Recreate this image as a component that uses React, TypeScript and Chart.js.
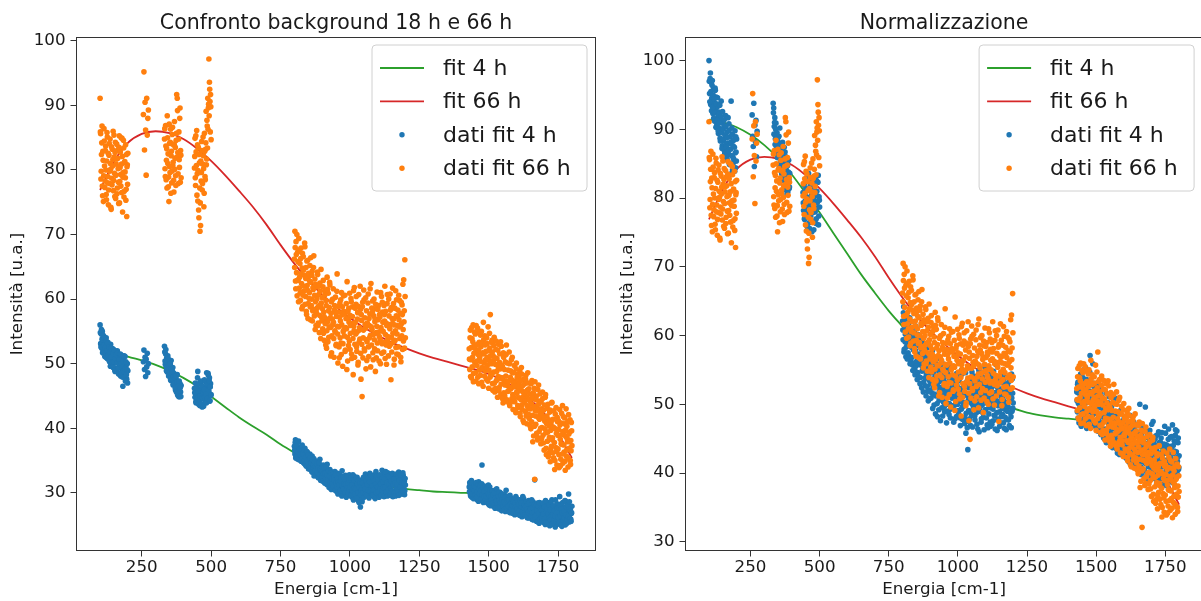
import React, { useEffect, useRef } from "react";
import { Chart, registerables } from "chart.js";

Chart.register(...registerables);

const FONT = "'DejaVu Sans', 'Liberation Sans', sans-serif";
const BLUE = "#1f77b4";
const ORANGE = "#ff7f0e";
const GREEN = "#2ca02c";
const RED = "#d62728";

// ---------- tick labels ----------
const xTicks = [250, 500, 750, 1000, 1250, 1500, 1750];
const yTicksLeft = [30, 40, 50, 60, 70, 80, 90, 100];
const yTicksRight = [30, 40, 50, 60, 70, 80, 90, 100];

// ---------- energy grid (cm-1), per measured window ----------
const energiaA = [100,102,104,106,108,110,112,114,116,118,120,122,124,126,128,130,132,134,136,138,140,142,144,146,148,150,152,154,156,158,160,162,164,166,168,170,172,174,176,178,180,182,184,186,188,190,192,194,196,198,200];
const energiaA2 = [101,103,105,107,109,111,113,115,117,119,121,123,125,127,129,131,133,135,137,139,141,143,145,147,149,151,153,155,157,159,161,163,165,167,169,171,173,175,177,179,181,183,185,187,189,191,193,195,197,199];
const energiaB = [256,258,260,262,264,266,268,270,272,274];
const energiaC = [332,334,336,338,340,342,344,346,348,350,352,354,356,358,360,362,364,366,368,370,372,374,376,378,380,382,384,386,388,390,392];
const energiaC2 = [333,335,337,339,341,343,345,347,349,351,353,355,357,359,361,363,365,367,369,371,373,375,377,379,381,383,385,387,389,391];
const energiaD = [440,442,444,446,448,450,452,454,456,458,460,462,464,466,468,470,472,474,476,478,480,482,484,486,488,490,492,494,496,498,500];
const energiaD2 = [441,443,445,447,449,451,453,455,457,459,461,463,465,467,469,471,473,475,477,479,481,483,485,487,489,491,493,495,497,499];
const energiaE = [
  800,802,804,806,808,810,812,814,816,818,
  820,822,824,826,828,830,832,834,836,838,
  840,842,844,846,848,850,852,854,856,858,
  860,862,864,866,868,870,872,874,876,878,
  880,882,884,886,888,890,892,894,896,898,
  900,902,904,906,908,910,912,914,916,918,
  920,922,924,926,928,930,932,934,936,938,
  940,942,944,946,948,950,952,954,956,958,
  960,962,964,966,968,970,972,974,976,978,
  980,982,984,986,988,990,992,994,996,998,
  1000,1002,1004,1006,1008,1010,1012,1014,1016,1018,
  1020,1022,1024,1026,1028,1030,1032,1034,1036,1038,
  1040,1042,1044,1046,1048,1050,1052,1054,1056,1058,
  1060,1062,1064,1066,1068,1070,1072,1074,1076,1078,
  1080,1082,1084,1086,1088,1090,1092,1094,1096,1098,
  1100,1102,1104,1106,1108,1110,1112,1114,1116,1118,
  1120,1122,1124,1126,1128,1130,1132,1134,1136,1138,
  1140,1142,1144,1146,1148,1150,1152,1154,1156,1158,
  1160,1162,1164,1166,1168,1170,1172,1174,1176,1178,
  1180,1182,1184,1186,1188,1190,1192,1194,1196,1198,
  1200];
const energiaE2 = [
  801,803,805,807,809,811,813,815,817,819,
  821,823,825,827,829,831,833,835,837,839,
  841,843,845,847,849,851,853,855,857,859,
  861,863,865,867,869,871,873,875,877,879,
  881,883,885,887,889,891,893,895,897,899,
  901,903,905,907,909,911,913,915,917,919,
  921,923,925,927,929,931,933,935,937,939,
  941,943,945,947,949,951,953,955,957,959,
  961,963,965,967,969,971,973,975,977,979,
  981,983,985,987,989,991,993,995,997,999,
  1001,1003,1005,1007,1009,1011,1013,1015,1017,1019,
  1021,1023,1025,1027,1029,1031,1033,1035,1037,1039,
  1041,1043,1045,1047,1049,1051,1053,1055,1057,1059,
  1061,1063,1065,1067,1069,1071,1073,1075,1077,1079,
  1081,1083,1085,1087,1089,1091,1093,1095,1097,1099,
  1101,1103,1105,1107,1109,1111,1113,1115,1117,1119,
  1121,1123,1125,1127,1129,1131,1133,1135,1137,1139,
  1141,1143,1145,1147,1149,1151,1153,1155,1157,1159,
  1161,1163,1165,1167,1169,1171,1173,1175,1177,1179,
  1181,1183,1185,1187,1189,1191,1193,1195,1197,1199];
const energiaF = [
  1430,1432,1434,1436,1438,1440,1442,1444,1446,1448,
  1450,1452,1454,1456,1458,1460,1462,1464,1466,1468,
  1470,1472,1474,1476,1478,1480,1482,1484,1486,1488,
  1490,1492,1494,1496,1498,1500,1502,1504,1506,1508,
  1510,1512,1514,1516,1518,1520,1522,1524,1526,1528,
  1530,1532,1534,1536,1538,1540,1542,1544,1546,1548,
  1550,1552,1554,1556,1558,1560,1562,1564,1566,1568,
  1570,1572,1574,1576,1578,1580,1582,1584,1586,1588,
  1590,1592,1594,1596,1598,1600,1602,1604,1606,1608,
  1610,1612,1614,1616,1618,1620,1622,1624,1626,1628,
  1630,1632,1634,1636,1638,1640,1642,1644,1646,1648,
  1650,1652,1654,1656,1658,1660,1662,1664,1666,1668,
  1670,1672,1674,1676,1678,1680,1682,1684,1686,1688,
  1690,1692,1694,1696,1698,1700,1702,1704,1706,1708,
  1710,1712,1714,1716,1718,1720,1722,1724,1726,1728,
  1730,1732,1734,1736,1738,1740,1742,1744,1746,1748,
  1750,1752,1754,1756,1758,1760,1762,1764,1766,1768,
  1770,1772,1774,1776,1778,1780,1782,1784,1786,1788,
  1790,1792,1794,1796,1798,1800];
const energiaF2 = [
  1431,1433,1435,1437,1439,1441,1443,1445,1447,1449,
  1451,1453,1455,1457,1459,1461,1463,1465,1467,1469,
  1471,1473,1475,1477,1479,1481,1483,1485,1487,1489,
  1491,1493,1495,1497,1499,1501,1503,1505,1507,1509,
  1511,1513,1515,1517,1519,1521,1523,1525,1527,1529,
  1531,1533,1535,1537,1539,1541,1543,1545,1547,1549,
  1551,1553,1555,1557,1559,1561,1563,1565,1567,1569,
  1571,1573,1575,1577,1579,1581,1583,1585,1587,1589,
  1591,1593,1595,1597,1599,1601,1603,1605,1607,1609,
  1611,1613,1615,1617,1619,1621,1623,1625,1627,1629,
  1631,1633,1635,1637,1639,1641,1643,1645,1647,1649,
  1651,1653,1655,1657,1659,1661,1663,1665,1667,1669,
  1671,1673,1675,1677,1679,1681,1683,1685,1687,1689,
  1691,1693,1695,1697,1699,1701,1703,1705,1707,1709,
  1711,1713,1715,1717,1719,1721,1723,1725,1727,1729,
  1731,1733,1735,1737,1739,1741,1743,1745,1747,1749,
  1751,1753,1755,1757,1759,1761,1763,1765,1767,1769,
  1771,1773,1775,1777,1779,1781,1783,1785,1787,1789,
  1791,1793,1795,1797,1799];

// ---------- dati fit 66 h (intensity, u.a.) ----------
const dati66hA = [91.1,85.6,79.8,84.2,77.5,82.9,75.1,86.4,80.6,78.3,83.7,76.2,81.4,85.1,79.0,74.6,82.3,77.9,84.8,80.1,73.9,78.7,83.2,81.6,76.8,85.4,79.5,82.7,75.6,80.9,84.0,77.2,81.8,78.1,83.5,74.9,80.4,79.3,85.0,76.5,82.1,78.9,84.6,75.8,81.2,79.7,83.9,77.0,72.8,80.8,82.6];
const dati66hA2 = [85.9,78.6,82.4,86.8,76.0,81.5,79.1,84.5,77.3,83.0,80.0,75.4,85.8,78.0,82.6,76.9,84.1,79.8,81.0,74.2,83.6,77.7,80.6,86.0,78.4,82.0,75.9,84.3,79.2,81.7,76.3,83.1,80.2,74.8,85.3,78.2,82.8,77.5,80.9,84.9,73.5,79.6,83.4,76.7,81.3,78.8,75.3,82.4,80.5,77.8];
const dati66hB = [88.6,95.2,83.1,90.5,86.2,79.2,91.1,85.4,88.0,89.3];
const dati66hC = [84.8,80.2,86.9,78.5,83.3,88.4,81.0,77.4,75.1,84.1,79.6,86.3,82.2,78.0,85.5,80.7,83.9,76.6,87.5,81.8,79.1,84.6,91.7,91.1,82.7,77.9,85.9,80.4,89.6,83.0,78.8];
const dati66hC2 = [86.4,79.0,83.7,81.5,77.2,85.0,82.5,78.9,87.1,80.5,84.3,76.4,82.9,79.8,86.6,81.2,78.4,84.0,80.1,83.5,77.6,85.7,82.0,89.2,79.4,84.8,81.6,88.0,78.1,82.3];
const dati66hD = [80.3,84.9,77.6,82.8,86.1,79.4,75.2,83.5,72.6,81.1,70.5,71.4,78.3,84.4,76.9,80.9,82.2,74.3,85.7,79.0,83.2,89.1,81.7,86.8,91.1,89.6,97.2,93.6,90.6,91.7,84.7];
const dati66hD2 = [82.1,78.8,85.3,80.7,76.1,83.9,79.9,73.8,82.4,77.2,74.9,81.4,79.6,83.0,77.9,85.1,80.2,76.4,82.9,78.5,84.2,80.8,87.7,83.4,86.3,90.2,88.4,92.5,85.9,89.8];
const dati66hE = [
  66.2,70.5,62.8,68.9,64.1,60.5,67.3,63.0,69.4,61.7,
  65.5,59.8,67.9,62.4,64.8,58.9,66.6,61.2,63.7,68.1,
  60.4,64.9,57.6,62.1,66.0,59.3,63.5,61.0,65.2,56.8,
  62.6,60.0,64.3,58.2,61.5,66.7,57.4,63.1,59.6,55.9,
  61.9,58.6,63.8,56.3,60.7,54.8,62.5,59.1,64.6,57.2,
  60.2,55.4,62.9,58.0,53.6,61.3,57.0,59.8,52.4,63.4,
  56.5,60.9,54.1,58.7,62.2,55.6,57.8,51.7,59.9,56.0,
  61.6,53.9,58.3,55.1,60.3,52.8,57.3,63.9,54.6,58.9,
  55.7,50.9,59.4,56.6,53.2,61.0,57.6,49.6,55.0,58.1,
  54.3,60.6,52.1,57.0,55.4,62.7,50.4,56.9,58.6,53.5,
  57.5,54.7,60.1,51.5,56.2,58.8,48.3,55.8,61.8,53.0,
  56.4,59.2,52.6,54.9,57.9,50.2,60.7,55.2,53.8,58.4,
  47.6,56.7,44.9,59.5,54.0,61.4,52.3,57.1,55.5,49.2,
  58.2,53.4,56.0,60.8,51.1,55.9,57.7,54.4,62.4,52.9,
  55.3,59.7,50.6,57.4,53.7,56.5,48.8,58.5,54.8,61.1,
  52.0,56.8,59.0,54.2,57.2,50.0,55.6,60.4,53.1,58.0,
  55.0,51.8,57.6,62.0,54.5,56.3,49.9,59.3,53.6,56.1,
  60.0,52.7,55.4,58.3,47.5,54.1,57.0,61.7,53.3,56.9,
  50.7,58.6,55.1,52.5,59.9,54.6,57.3,51.4,60.6,55.7,
  53.9,57.8,50.3,56.2,59.1,52.2,55.3,63.0,58.2,66.1,
  54.0];
const dati66hE2 = [
  64.9,68.0,61.6,66.9,70.0,62.9,65.8,59.6,67.6,63.4,
  61.0,66.3,63.9,58.5,67.1,60.6,64.5,62.0,68.7,59.2,
  63.2,58.1,65.9,61.4,57.0,64.0,60.1,62.8,58.8,66.4,
  59.0,63.7,56.6,61.8,64.9,58.4,60.6,55.3,62.3,57.9,
  60.0,64.2,55.9,58.9,62.0,57.5,61.2,53.9,59.4,56.6,
  58.5,61.9,54.7,57.3,60.6,56.2,52.9,59.0,55.1,61.5,
  53.4,58.2,55.7,62.6,57.1,51.2,59.6,54.3,56.9,60.0,
  56.4,51.0,59.0,54.9,57.9,53.0,61.2,55.8,50.1,58.0,
  52.6,57.2,54.0,59.9,51.4,56.0,58.8,53.1,60.5,55.3,
  57.7,51.9,55.6,59.3,49.1,54.1,58.1,52.8,56.4,60.9,
  52.2,55.9,59.6,50.8,57.3,53.9,61.3,55.1,51.0,58.6,
  54.6,60.4,51.9,56.9,49.8,58.9,53.3,55.6,62.0,51.6,
  57.6,53.0,58.8,50.9,55.2,59.9,52.0,56.1,60.2,53.7,
  50.5,56.3,59.4,52.6,57.0,54.0,61.6,49.5,55.7,58.6,
  57.9,51.7,54.5,60.0,52.3,56.9,59.2,50.9,55.8,53.2,
  58.4,54.9,50.4,57.6,53.8,61.0,55.2,51.6,59.5,56.4,
  53.3,59.0,56.6,50.8,58.1,52.9,55.9,60.7,54.2,51.2,
  57.4,55.6,60.8,53.0,58.7,51.8,56.2,54.7,59.3,49.8,
  56.0,53.6,61.3,57.4,51.5,55.9,58.3,52.6,56.8,59.8,
  55.8,51.0,59.5,54.3,57.6,62.3,53.5,56.5,52.4,60.4];
const dati66hF = [
  52.3,49.1,55.2,50.6,47.8,53.9,51.0,56.0,48.5,52.8,
  50.2,54.6,47.3,52.0,49.7,55.5,51.4,46.9,53.3,50.9,
  48.2,52.6,55.0,49.4,51.7,46.5,53.7,50.1,54.3,48.9,
  51.9,47.6,53.1,49.8,55.7,46.2,50.5,52.4,57.6,48.4,
  50.0,53.6,46.9,51.2,48.7,54.1,45.6,49.9,52.2,47.4,
  50.8,44.8,48.0,53.0,46.3,51.5,49.2,45.2,52.7,47.7,
  49.5,43.9,51.0,47.1,45.0,50.3,48.1,52.9,44.4,46.6,
  49.0,45.8,51.8,43.5,47.9,46.1,50.6,44.6,48.6,42.9,
  46.4,49.7,44.1,47.3,42.4,50.1,45.4,48.3,43.2,46.8,
  44.7,48.9,41.8,46.0,49.4,43.6,45.7,41.2,47.6,44.0,
  46.9,42.6,48.2,44.9,40.7,45.9,43.1,47.0,41.5,44.3,
  45.3,39.9,43.8,47.4,42.0,44.6,38.8,46.2,32.1,42.7,
  40.6,45.0,43.4,38.2,41.7,46.7,39.5,44.2,42.3,37.6,
  43.0,40.1,45.6,38.9,42.8,36.6,41.1,44.8,39.3,35.9,
  41.9,38.0,43.7,36.1,40.4,42.5,34.8,39.7,37.2,44.0,
  38.5,41.4,35.4,40.0,33.6,42.2,37.0,39.2,34.3,41.0,
  36.8,39.8,33.9,42.9,38.3,35.2,40.8,37.5,43.5,34.6,
  39.0,36.3,41.6,33.5,38.7,35.7,40.3,37.9,34.0,42.1,
  36.9,39.4,35.0,38.1,40.9,37.3];
const dati66hF2 = [
  50.7,54.0,48.0,52.5,55.6,49.5,53.4,47.2,51.6,54.9,
  52.4,48.6,55.9,50.4,53.0,47.9,52.1,54.8,49.0,51.3,
  54.4,50.3,47.1,53.1,49.2,56.4,51.5,48.1,52.9,50.6,
  49.4,54.0,51.0,47.3,52.0,49.0,54.7,47.9,51.2,53.3,
  48.3,51.8,45.9,50.4,52.8,47.0,50.9,46.2,53.5,48.8,
  47.5,52.1,49.4,45.8,50.2,47.9,53.4,46.8,49.8,44.6,
  47.8,51.7,45.5,49.1,46.7,44.2,51.4,47.3,50.1,45.7,
  47.2,43.9,50.0,46.3,48.9,44.1,47.5,51.0,45.2,47.0,
  48.6,44.7,46.5,42.8,49.2,45.6,47.9,43.5,45.9,48.0,
  46.4,42.3,47.4,44.4,48.4,42.9,46.6,44.9,40.9,45.4,
  44.2,47.6,41.9,45.7,43.5,48.6,42.2,46.1,44.5,40.4,
  43.0,46.9,41.0,44.8,37.9,45.5,43.3,40.3,47.2,41.9,
  44.4,39.2,42.7,46.0,38.5,43.8,41.4,45.3,40.0,44.1,
  38.4,42.0,44.6,37.7,41.6,43.6,39.9,45.2,36.9,40.7,
  43.1,39.4,35.6,41.3,38.6,42.8,36.7,40.9,43.9,38.2,
  36.2,40.2,42.7,37.8,35.0,39.9,43.2,36.4,41.7,38.9,
  41.2,35.9,38.9,40.5,34.2,37.6,42.3,36.0,39.5,41.8,
  37.4,40.7,34.9,39.7,43.0,36.6,38.4,41.0,35.4,39.1,
  38.0,41.3,34.4,36.5,39.6];

// ---------- dati fit 4 h, raw (left panel) ----------
const dati4hA = [56.0,53.1,54.6,52.4,55.0,53.7,51.9,54.2,52.8,53.5,51.4,54.0,52.2,50.8,53.3,51.6,52.7,50.3,51.9,53.0,49.9,51.2,50.6,52.3,49.4,51.5,50.1,48.8,51.8,50.4,49.2,52.0,50.7,48.5,51.0,49.7,50.9,48.1,50.2,51.3,49.0,46.5,50.5,48.7,49.6,51.1,48.2,49.8,47.6,50.0,48.9];
const dati4hA2 = [54.8,52.6,55.3,53.8,51.7,54.4,52.9,53.9,51.1,52.5,53.6,50.9,52.0,53.2,51.3,50.6,52.6,51.8,49.6,51.0,52.4,50.2,49.5,51.6,50.3,52.1,49.0,50.8,51.4,48.9,50.1,51.7,49.3,48.4,50.6,49.9,51.5,48.6,50.0,49.4,47.9,50.4,48.8,51.2,49.2,47.3,50.3,48.3,49.1,47.0];
const dati4hB = [50.3,52.1,49.1,51.0,48.0,50.7,49.5,51.6,48.6,50.0];
const dati4hC = [52.7,50.4,51.5,49.6,50.9,48.7,51.2,49.3,50.1,48.2,49.8,47.5,50.5,48.9,47.9,49.4,46.8,48.5,47.2,48.0,45.9,47.6,46.4,48.3,45.1,47.0,46.1,44.9,46.9,45.6,46.6];
const dati4hC2 = [51.8,49.9,52.2,48.9,50.6,49.5,50.8,48.1,49.7,48.6,50.0,47.4,49.1,47.7,48.8,46.7,48.0,46.9,47.8,46.2,48.1,45.6,47.1,45.3,46.5,44.9,47.3,45.8,46.3,44.9];
const dati4hD = [46.2,44.8,45.9,43.9,46.7,45.1,48.8,44.3,46.0,45.4,43.5,47.1,44.9,45.7,43.3,46.4,44.6,45.3,47.5,44.0,46.1,45.0,48.6,44.5,46.6,48.2,45.6,47.8,44.2,46.9,45.2];
const dati4hD2 = [45.5,47.0,44.1,46.3,44.6,47.8,45.8,43.7,46.9,44.4,45.0,47.3,43.8,46.5,44.7,45.6,43.4,46.0,44.8,47.2,45.3,43.9,46.8,44.6,48.5,45.9,47.4,44.3,46.4,45.1];
const dati4hE = [
  37.2,36.0,38.2,35.6,37.6,36.5,35.2,37.9,36.8,35.9,
  37.0,35.4,36.4,34.9,37.4,35.8,36.2,34.6,35.5,36.9,
  34.8,35.9,34.3,36.3,35.1,33.9,35.6,34.5,36.0,33.6,
  35.0,34.2,35.7,33.4,34.7,35.3,33.1,34.4,32.8,34.9,
  33.7,34.6,32.5,33.9,34.1,32.9,35.2,33.3,32.2,34.0,
  33.0,32.4,34.3,31.9,33.5,32.7,33.8,31.6,32.9,34.4,
  32.3,33.1,31.4,32.8,33.6,31.9,32.5,30.9,33.2,32.0,
  31.7,32.9,30.6,33.3,31.2,32.4,30.2,31.8,33.0,31.1,
  32.6,30.8,31.5,32.1,29.9,31.3,33.4,30.5,31.9,32.2,
  30.7,31.6,32.7,30.1,31.0,29.6,32.3,31.4,30.3,32.8,
  31.2,30.0,32.0,29.4,31.7,30.6,29.1,31.5,32.5,30.2,
  31.1,29.7,30.9,32.4,30.4,28.8,31.8,30.0,29.3,27.8,
  31.3,30.5,28.6,32.1,30.8,29.8,31.6,30.3,32.9,29.5,
  30.7,31.9,29.9,32.6,30.1,31.2,33.0,29.6,31.4,30.9,
  32.3,30.2,31.7,29.4,32.8,31.0,30.4,33.3,31.5,29.7,
  31.8,30.6,32.5,31.1,29.5,32.2,30.8,31.6,33.5,30.0,
  31.4,32.7,30.3,31.9,29.8,32.4,31.2,30.7,33.1,31.0,
  32.0,30.5,31.7,29.6,32.9,31.3,30.2,32.3,31.5,29.9,
  31.6,32.6,30.4,31.9,30.9,32.2,29.7,31.1,33.2,30.6,
  32.4,31.0,30.1,32.0,31.4,29.8,32.7,30.8,31.8,30.3,
  31.2];
const dati4hE2 = [
  36.6,37.8,35.4,36.9,37.3,35.7,36.4,38.0,35.1,36.7,
  35.9,36.8,34.9,37.2,35.3,36.1,34.7,36.6,35.0,34.4,
  35.5,34.1,36.4,34.9,35.8,33.7,35.2,34.0,35.4,33.8,
  34.6,33.2,35.1,33.9,34.3,32.6,34.8,33.5,34.1,32.7,
  34.4,33.1,33.8,32.3,34.7,32.8,33.6,31.9,33.4,32.6,
  33.3,31.8,32.9,33.9,31.5,33.0,32.2,34.0,31.3,32.7,
  32.0,33.4,30.8,32.6,31.6,33.1,30.5,32.1,31.3,32.9,
  31.0,32.5,31.9,30.4,32.8,31.5,30.9,32.3,29.8,31.6,
  31.2,32.9,30.3,31.8,32.4,29.5,31.1,32.5,30.6,31.4,
  32.1,30.0,31.3,29.3,32.6,30.8,31.5,29.9,32.0,30.5,
  30.9,32.3,29.6,31.2,30.3,32.8,28.9,30.7,31.9,29.8,
  30.6,32.2,29.2,31.4,30.0,31.9,28.5,30.8,31.6,29.7,
  30.4,28.9,31.5,30.0,32.4,29.3,31.1,30.6,29.9,31.8,
  29.6,31.3,32.3,30.4,29.2,31.7,30.2,32.7,30.8,29.9,
  31.1,29.7,32.1,30.5,31.9,29.1,31.3,30.0,32.6,30.9,
  30.2,31.9,29.3,32.8,30.6,31.4,29.6,32.2,30.4,31.7,
  30.8,29.4,32.1,30.9,33.3,30.1,31.6,29.5,32.5,30.5,
  31.3,32.4,29.7,30.8,31.8,30.3,33.0,29.4,31.2,32.1,
  30.0,31.5,29.5,32.9,30.7,31.3,30.1,32.5,29.6,31.9,
  30.9,32.8,29.9,31.6,30.4,33.1,30.2,31.5,29.7,32.2];
const dati4hF = [
  30.9,31.6,29.8,30.4,31.9,29.3,30.7,31.2,29.6,30.1,
  31.4,29.1,30.6,29.9,31.0,28.9,30.3,31.7,29.4,30.8,
  29.7,30.5,28.8,34.3,30.0,31.1,29.2,30.4,28.6,29.9,
  30.6,29.0,29.8,28.4,30.2,29.5,28.1,30.9,29.3,28.7,
  29.6,28.3,30.1,28.9,27.9,29.4,30.4,28.5,29.1,27.7,
  28.8,29.9,28.0,29.3,27.5,28.6,30.0,28.2,29.0,27.3,
  29.2,28.4,27.8,29.7,28.1,27.1,28.9,29.5,27.6,28.3,
  28.7,27.4,29.3,28.0,26.9,28.5,29.0,27.2,28.8,27.9,
  27.5,28.6,26.6,28.2,29.4,27.0,28.0,26.8,28.9,27.6,
  28.3,26.5,27.8,28.7,27.1,26.3,28.1,27.4,29.1,26.9,
  27.7,28.5,26.7,27.3,28.0,26.1,27.9,28.8,26.4,27.5,
  26.8,28.2,27.0,25.9,27.6,28.6,26.2,27.2,32.0,26.6,
  27.8,25.6,26.9,28.4,26.0,27.3,25.3,28.0,26.5,27.1,
  25.8,27.6,26.3,28.2,25.4,26.8,27.9,25.1,26.6,27.4,
  26.1,28.5,25.5,27.0,26.4,24.9,27.7,25.9,26.7,28.9,
  25.2,26.9,27.5,25.7,26.2,24.7,27.2,26.0,28.3,25.4,
  27.0,25.8,26.5,29.4,25.1,27.6,26.3,24.8,27.3,26.1,
  25.6,27.8,26.4,25.0,28.7,26.7,25.3,27.1,26.0,29.8,
  26.3,25.5,27.4,25.9,26.8,27.9];
const dati4hF2 = [
  30.2,31.3,29.5,30.8,29.9,31.5,30.5,29.1,31.0,30.3,
  29.6,30.9,31.6,29.3,30.1,31.2,28.7,30.6,29.8,31.1,
  30.3,29.0,31.4,29.7,30.8,28.5,30.2,29.4,31.0,28.9,
  29.5,30.7,28.6,29.9,31.2,28.3,29.6,30.4,28.0,29.4,
  28.9,30.3,28.4,29.7,28.1,30.0,27.6,29.2,28.7,30.6,
  28.3,27.7,29.5,28.8,30.1,27.9,28.5,29.6,27.2,28.9,
  29.8,27.9,28.6,27.4,29.3,28.2,30.4,27.7,28.8,29.1,
  27.9,28.9,27.0,29.6,28.3,27.6,29.1,28.0,26.8,28.6,
  28.9,27.3,28.4,27.8,26.7,29.1,27.5,28.5,27.0,28.2,
  27.2,28.9,26.6,27.9,28.4,27.0,29.4,26.8,27.7,28.1,
  26.6,27.8,28.6,26.3,27.4,28.3,27.0,26.1,28.5,27.2,
  27.5,26.4,28.9,26.9,27.7,25.8,28.1,27.0,26.3,27.9,
  26.5,28.1,27.2,25.5,27.9,26.8,28.5,25.9,27.4,26.2,
  27.3,26.1,28.4,26.7,25.7,27.8,26.0,28.8,25.5,27.1,
  27.5,25.3,26.8,28.1,26.0,27.4,25.8,28.6,26.5,25.1,
  26.6,28.0,25.6,27.3,26.4,28.9,25.5,26.9,27.6,25.2,
  26.2,27.7,25.4,28.2,26.5,25.0,27.5,26.9,28.5,25.7,
  27.1,26.1,28.8,25.2,26.6,27.8,25.9,28.1,26.3,27.4,
  28.6,26.0,27.2,25.6,26.9];

// ---------- dati fit 4 h, normalized (right panel) ----------
const dati4hNormA = [100.0,95.2,97.4,93.6,96.8,94.5,97.1,92.3,95.8,93.9,91.2,96.0,92.8,94.7,90.6,93.3,91.8,89.4,92.5,90.1,88.7,91.5,94.1,89.9,87.6,91.0,88.3,90.5,86.9,89.2,92.0,87.8,85.9,89.6,88.0,86.4,90.8,84.9,88.9,87.1,94.1,83.6,89.3,86.0,88.4,85.2,87.4,89.8,84.4,86.7,88.6];
const dati4hNormA2 = [97.0,94.0,98.2,95.5,92.7,96.4,93.2,95.0,91.6,94.4,92.4,95.7,90.3,93.7,91.3,94.6,89.8,92.2,90.9,93.5,88.3,91.9,89.5,87.2,92.6,90.0,88.6,91.4,86.5,89.1,90.4,87.4,88.8,85.5,91.7,86.9,89.9,87.9,85.0,88.1,86.2,90.2,84.1,87.6,85.7,88.5,83.9,86.6,88.9,85.4];
const dati4hNormB = [92.1,89.0,87.5,93.8,84.6,90.6,88.2,91.3,86.0,89.7];
const dati4hNormC = [93.8,93.1,90.4,91.7,88.6,90.9,87.3,89.5,86.2,88.8,84.9,87.7,90.2,85.6,87.0,83.8,86.4,88.1,82.9,85.3,87.4,84.1,81.9,86.0,83.2,80.6,84.7,82.4,85.5,81.4,83.6];
const dati4hNormC2 = [92.4,89.3,91.0,87.8,90.0,86.8,89.1,85.9,88.2,86.5,89.0,84.3,86.9,85.0,87.9,83.5,86.1,84.6,82.6,85.8,83.0,86.7,81.2,84.5,82.1,85.1,80.9,83.8,82.7,81.6];
const dati4hNormD = [80.8,78.2,82.0,76.9,79.6,81.3,77.7,80.1,75.8,78.9,83.6,76.4,79.2,81.7,77.3,80.4,75.1,78.5,82.6,79.9,76.6,80.9,78.0,83.1,77.0,81.0,79.4,82.3,76.1,80.2,78.7];
const dati4hNormD2 = [79.3,81.9,77.0,80.5,78.3,82.8,76.0,79.8,81.4,77.5,80.0,75.6,78.7,82.1,76.8,79.1,81.6,77.9,80.6,75.4,78.0,81.8,79.5,76.3,82.5,78.6,80.3,83.3,77.4,79.7];
const dati4hNormE = [
  62.1,59.4,64.2,58.0,61.3,60.2,56.9,63.0,58.8,60.7,
  57.5,61.8,59.0,62.6,56.4,60.0,58.3,61.1,55.7,59.8,
  57.9,60.5,55.1,58.7,61.4,56.2,59.3,54.6,57.2,60.1,
  55.8,58.4,53.9,57.0,59.6,54.8,56.5,58.9,53.2,55.9,
  57.6,52.7,56.1,54.3,58.2,51.9,55.4,57.3,53.5,50.8,
  56.3,53.0,55.0,51.6,57.8,52.4,54.6,49.9,56.0,53.7,
  51.2,55.3,52.8,48.2,54.1,56.7,50.6,53.3,55.6,51.8,
  54.4,49.5,52.5,55.9,50.3,53.9,48.9,52.0,54.8,51.3,
  53.1,50.0,55.2,51.7,48.5,53.6,52.2,49.3,54.0,50.9,
  52.6,55.5,49.8,51.5,53.8,47.9,52.9,50.4,54.5,51.0,
  53.4,49.1,51.9,54.2,48.0,52.3,50.7,55.0,49.6,52.1,
  50.2,53.0,47.2,51.4,54.6,48.7,52.7,46.6,43.4,50.5,
  52.4,49.0,51.1,46.9,53.5,50.1,48.4,52.8,49.7,54.1,
  51.6,47.7,50.8,53.1,48.8,52.0,46.4,51.2,54.9,49.4,
  52.5,50.3,47.4,53.7,49.9,51.8,48.1,52.9,50.6,55.4,
  49.2,51.5,53.3,47.0,50.9,52.6,48.6,54.3,50.0,46.8,
  52.2,49.5,51.0,53.9,47.6,50.4,52.8,48.3,51.7,55.8,
  50.1,46.2,52.4,49.8,53.2,48.9,51.3,47.3,54.0,50.7,
  52.1,48.5,50.6,53.6,46.5,51.9,49.2,52.7,47.8,50.3,
  53.0,49.6,51.4,46.9,52.3,50.8,48.2,54.4,49.0,51.6,
  50.2];
const dati4hNormE2 = [
  60.8,63.3,57.6,61.9,59.1,62.4,58.3,60.4,56.6,61.5,
  59.5,57.0,60.9,55.9,58.9,61.0,56.8,59.7,54.9,58.0,
  56.0,59.6,54.3,57.8,55.6,60.2,53.6,56.9,58.6,54.0,
  57.3,53.0,56.2,58.1,52.4,55.5,57.7,51.8,54.9,56.8,
  53.8,56.6,51.2,55.0,52.6,57.0,50.5,54.2,55.8,52.0,
  54.7,50.9,53.4,56.4,49.4,52.9,55.2,51.5,54.0,48.6,
  53.0,55.9,50.1,52.6,54.9,49.2,51.9,53.8,47.6,52.4,
  50.8,54.2,48.3,51.7,53.4,49.6,55.1,50.5,52.6,47.3,
  51.5,54.5,49.0,52.3,50.1,55.4,48.0,51.3,53.3,49.5,
  51.0,54.0,47.4,52.0,49.9,53.1,50.6,48.2,52.7,50.0,
  51.7,48.6,53.6,50.4,46.9,52.0,49.3,54.4,47.8,51.2,
  49.8,52.9,48.1,51.6,45.8,50.3,53.3,47.5,51.1,49.1,
  53.0,47.9,50.7,52.5,48.5,54.7,46.7,51.5,49.5,52.2,
  48.3,51.8,50.1,53.8,47.1,50.9,52.9,49.0,46.0,51.4,
  49.7,53.3,47.9,51.1,54.0,48.7,50.5,46.3,52.4,49.2,
  51.3,48.0,53.4,50.1,46.6,52.0,49.5,51.8,47.4,53.9,
  50.6,47.1,52.6,49.3,54.8,48.4,51.2,46.4,50.8,53.0,
  48.8,51.7,47.8,53.5,50.4,46.8,52.2,49.9,48.2,54.5,
  49.4,51.1,47.3,52.9,50.0,48.1,53.9,46.3,51.6,49.0,
  51.8,47.7,50.4,53.4,48.8,52.1,46.6,50.9,53.7,49.4];
const dati4hNormF = [
  51.8,48.9,53.2,50.1,47.3,52.6,49.6,54.4,46.8,51.0,
  49.2,53.9,50.7,47.9,52.1,48.4,55.3,50.3,46.5,51.7,
  53.5,49.0,51.2,48.1,57.1,50.5,47.4,52.8,49.8,55.9,
  48.6,51.4,46.9,50.0,53.0,47.6,49.3,51.9,46.1,50.8,
  48.0,52.3,46.6,49.5,47.2,51.1,45.8,48.7,50.4,46.3,
  49.0,44.9,47.8,51.6,46.0,48.3,45.5,50.2,47.1,44.6,
  48.5,46.4,43.9,49.7,47.0,45.2,48.8,44.3,46.7,50.9,
  45.7,47.9,43.5,46.2,48.6,44.8,47.3,42.7,45.9,49.1,
  44.1,46.8,42.9,47.6,45.4,43.3,48.1,44.6,46.5,42.2,
  47.0,43.8,45.6,41.9,46.1,44.4,48.4,42.5,45.0,43.1,
  46.3,42.0,44.7,47.4,43.6,41.5,45.3,43.0,46.9,42.8,
  44.0,45.8,41.3,43.7,50.0,42.4,44.9,40.8,43.4,46.6,
  42.1,45.1,40.4,43.9,49.6,41.8,44.3,39.7,42.6,45.7,
  41.0,43.5,46.2,39.9,42.3,44.8,40.6,43.0,47.5,41.4,
  44.2,39.5,42.7,45.4,40.2,43.2,38.8,41.9,46.0,42.4,
  40.7,44.5,39.2,42.0,45.9,41.1,38.4,43.8,40.0,46.8,
  42.9,39.0,44.1,41.6,38.1,43.3,46.4,40.3,42.2,45.2,
  39.6,43.6,41.2,47.0,38.6,42.8,44.7,40.9,45.5,39.3,
  43.1,46.1,41.7,44.4,40.5,42.5];
const dati4hNormF2 = [
  50.5,52.9,48.0,51.6,54.0,49.3,52.3,47.5,50.9,53.5,
  48.7,51.3,55.0,49.6,47.2,52.6,50.2,53.6,48.2,51.0,
  52.0,47.8,50.8,54.7,49.1,51.9,46.8,50.3,53.1,48.5,
  50.1,47.3,52.4,49.0,51.3,46.5,49.8,52.9,47.9,50.6,
  46.9,49.9,51.7,45.6,48.5,50.9,47.4,49.3,45.1,48.2,
  50.5,46.4,48.9,44.4,47.7,49.8,45.9,48.0,51.1,46.0,
  47.3,45.0,49.3,46.4,43.7,47.9,45.6,48.7,44.5,46.9,
  44.0,47.6,45.2,42.9,46.6,48.9,44.9,46.3,43.8,47.4,
  45.8,43.2,47.2,44.3,46.0,42.5,45.1,47.9,43.6,44.9,
  42.8,45.5,43.4,46.8,41.6,44.6,47.3,42.9,45.7,43.0,
  45.0,41.9,44.2,46.6,42.7,45.8,40.9,43.9,46.0,42.3,
  43.5,41.1,46.9,44.1,42.0,45.3,39.8,43.1,45.9,41.6,
  44.6,40.3,43.4,46.3,41.4,44.0,38.9,42.6,45.6,40.9,
  42.7,45.0,39.6,43.9,41.2,47.1,40.4,42.9,44.3,39.2,
  41.6,44.9,40.0,43.5,38.5,42.3,45.6,39.8,41.4,44.4,
  39.4,42.6,45.1,40.9,43.0,38.2,41.8,44.2,39.9,42.9,
  45.8,40.6,43.7,39.1,42.0,44.9,38.7,41.5,43.9,40.2,
  42.7,45.3,39.8,41.9,44.0,38.9,43.2,40.6,46.3,41.3,
  44.6,39.9,42.3,45.1,40.8];

// ---------- fitted curves (read every 50 cm-1) ----------
const fitEnergia = [100,150,200,250,300,350,400,450,500,550,600,650,700,750,800,850,900,950,1000,1050,1100,1150,1200,1250,1300,1350,1400,1450,1500,1550,1600,1650,1700,1750,1800];
const fit66h = [76.9,81.3,84.2,85.6,86.0,85.7,84.8,83.3,81.4,79.2,76.8,74.3,71.5,68.4,65.5,62.9,60.7,58.8,57.1,55.6,54.4,53.3,52.4,51.6,50.9,50.3,49.7,49.1,48.4,47.4,46.1,44.4,42.3,39.2,35.4];
const fit4h = [52.6,51.9,51.1,50.5,49.8,48.9,47.8,46.5,44.9,43.3,41.7,40.3,39.0,37.5,36.2,35.0,34.0,33.1,32.4,31.8,31.3,30.9,30.6,30.4,30.2,30.1,30.0,29.9,29.7,29.4,29.1,28.6,28.1,27.4,26.6];
const fit4hNorm = [91.4,91.0,90.3,89.2,87.7,85.8,83.4,80.7,77.9,74.9,71.9,68.9,66.2,63.6,61.3,59.0,56.9,55.0,53.4,52.1,51.0,50.1,49.4,48.8,48.4,48.1,47.9,47.7,47.5,47.1,46.5,45.6,44.5,43.0,41.3];

const energia = [...energiaA, ...energiaA2, ...energiaB, ...energiaC, ...energiaC2, ...energiaD, ...energiaD2, ...energiaE, ...energiaE2, ...energiaF, ...energiaF2];
const dati66h = [...dati66hA, ...dati66hA2, ...dati66hB, ...dati66hC, ...dati66hC2, ...dati66hD, ...dati66hD2, ...dati66hE, ...dati66hE2, ...dati66hF, ...dati66hF2];
const dati4h = [...dati4hA, ...dati4hA2, ...dati4hB, ...dati4hC, ...dati4hC2, ...dati4hD, ...dati4hD2, ...dati4hE, ...dati4hE2, ...dati4hF, ...dati4hF2];
const dati4hNorm = [...dati4hNormA, ...dati4hNormA2, ...dati4hNormB, ...dati4hNormC, ...dati4hNormC2, ...dati4hNormD, ...dati4hNormD2, ...dati4hNormE, ...dati4hNormE2, ...dati4hNormF, ...dati4hNormF2];

const toPoints = (xs: number[], ys: number[]) => xs.map((x, i) => ({ x, y: ys[i] })).filter((p) => typeof p.y === "number");

type PanelSpec = {
  title: string;
  pts4: { x: number; y: number }[];
  pts66: { x: number; y: number }[];
  fit4: { x: number; y: number }[];
  fit66: { x: number; y: number }[];
  yMin: number;
  yMax: number;
  yTicks: number[];
  padLeft: number;
  yWidth: number;
  padRight: number;
};

const TICK_FONT = { family: FONT, size: 16.7 };
const TEXT = "#1a1a1a";

function makeDecor(title: string) {
  return {
    id: "decor",
    afterDraw(chart: any) {
      const { ctx, chartArea: a } = chart;
      ctx.save();
      ctx.strokeStyle = "#333";
      ctx.lineWidth = 1;
      ctx.strokeRect(a.left, a.top, a.right - a.left, a.bottom - a.top);
      ctx.fillStyle = TEXT;
      ctx.font = `20.5px ${FONT}`;
      ctx.textAlign = "center";
      ctx.textBaseline = "alphabetic";
      ctx.fillText(title, (a.left + a.right) / 2, a.top - 8.5);
      const w = 215;
      const h = 146;
      const lx = a.right - 8.5 - w;
      const ly = a.top + 7.5;
      ctx.beginPath();
      ctx.roundRect(lx, ly, w, h, 4);
      ctx.fillStyle = "rgba(255,255,255,0.8)";
      ctx.fill();
      ctx.strokeStyle = "#d0d0d0";
      ctx.lineWidth = 1;
      ctx.stroke();
      const rows = [
        { label: "fit 4 h", color: GREEN, line: true },
        { label: "fit 66 h", color: RED, line: true },
        { label: "dati fit 4 h", color: BLUE, line: false },
        { label: "dati fit 66 h", color: ORANGE, line: false },
      ];
      rows.forEach((r, i) => {
        const cy = ly + 23 + i * 33.4;
        if (r.line) {
          ctx.strokeStyle = r.color;
          ctx.lineWidth = 1.8;
          ctx.beginPath();
          ctx.moveTo(lx + 8, cy);
          ctx.lineTo(lx + 52, cy);
          ctx.stroke();
        } else {
          ctx.fillStyle = r.color;
          ctx.beginPath();
          ctx.arc(lx + 30, cy, 2.7, 0, Math.PI * 2);
          ctx.fill();
        }
        ctx.fillStyle = TEXT;
        ctx.font = `22px ${FONT}`;
        ctx.textAlign = "left";
        ctx.textBaseline = "middle";
        ctx.fillText(r.label, lx + 71, cy + 1);
      });
      ctx.restore();
    },
  };
}

function buildConfig(p: PanelSpec): any {
  return {
    type: "scatter",
    data: {
      datasets: [
        { type: "scatter", label: "dati fit 66 h", data: p.pts66, backgroundColor: ORANGE, borderWidth: 0, pointRadius: 2.8, pointHoverRadius: 2.8, order: 1 },
        { type: "scatter", label: "dati fit 4 h", data: p.pts4, backgroundColor: BLUE, borderWidth: 0, pointRadius: 2.8, pointHoverRadius: 2.8, order: 2 },
        { type: "line", label: "fit 66 h", data: p.fit66, borderColor: RED, borderWidth: 1.8, pointRadius: 0, fill: false, cubicInterpolationMode: "monotone", order: 3 },
        { type: "line", label: "fit 4 h", data: p.fit4, borderColor: GREEN, borderWidth: 1.8, pointRadius: 0, fill: false, cubicInterpolationMode: "monotone", order: 4 },
      ],
    },
    options: {
      animation: false,
      responsive: false,
      events: [],
      layout: { padding: { left: p.padLeft, top: 37.5, right: p.padRight, bottom: 0 } },
      plugins: { legend: { display: false }, tooltip: { enabled: false }, title: { display: false } },
      scales: {
        x: {
          type: "linear",
          min: 15,
          max: 1885,
          afterBuildTicks: (s: any) => { s.ticks = xTicks.map((v) => ({ value: v })); },
          afterFit: (s: any) => { s.height = 50.5; },
          grid: { drawOnChartArea: false, drawTicks: true, tickLength: 6, color: "#333", lineWidth: 1 },
          border: { display: false },
          ticks: { font: TICK_FONT, color: TEXT, padding: 1, maxRotation: 0, autoSkip: false, callback: (v: any) => String(v) },
          title: { display: true, text: "Energia [cm-1]", font: TICK_FONT, color: TEXT, padding: { top: 0, bottom: 1 } },
        },
        y: {
          type: "linear",
          min: p.yMin,
          max: p.yMax,
          afterBuildTicks: (s: any) => { s.ticks = p.yTicks.map((v) => ({ value: v })); },
          afterFit: (s: any) => { s.width = p.yWidth; },
          grid: { drawOnChartArea: false, drawTicks: true, tickLength: 6, color: "#333", lineWidth: 1 },
          border: { display: false },
          ticks: { font: TICK_FONT, color: TEXT, padding: 5, autoSkip: false, callback: (v: any) => String(v) },
          title: { display: true, text: "Intensità [u.a.]", font: TICK_FONT, color: TEXT, padding: { top: 8, bottom: 0 } },
        },
      },
    },
    plugins: [makeDecor(p.title)],
  };
}

export default function App() {
  const leftRef = useRef<HTMLCanvasElement>(null);
  const rightRef = useRef<HTMLCanvasElement>(null);

  useEffect(() => {
    const left = new Chart(leftRef.current as HTMLCanvasElement, buildConfig({
      title: "Confronto background 18 h e 66 h",
      pts4: toPoints(energia, dati4h),
      pts66: toPoints(energia, dati66h),
      fit4: toPoints(fitEnergia, fit4h),
      fit66: toPoints(fitEnergia, fit66h),
      yMin: 21.06,
      yMax: 100.52,
      yTicks: yTicksLeft,
      padLeft: 0,
      yWidth: 76.5,
      padRight: 4.5,
    }));
    const right = new Chart(rightRef.current as HTMLCanvasElement, buildConfig({
      title: "Normalizzazione",
      pts4: toPoints(energia, dati4hNorm),
      pts66: toPoints(energia, dati66h),
      fit4: toPoints(fitEnergia, fit4hNorm),
      fit66: toPoints(fitEnergia, fit66h),
      yMin: 28.73,
      yMax: 103.36,
      yTicks: yTicksRight,
      padLeft: 10,
      yWidth: 75.5,
      padRight: 17.4,
    }));
    return () => {
      left.destroy();
      right.destroy();
    };
  }, []);

  return (
    <div style={{ position: "fixed", left: 0, top: 0, width: 1201, height: 601, background: "#fff", overflow: "hidden" }}>
      <canvas ref={leftRef} width={600} height={601} style={{ position: "absolute", left: 0, top: 0, width: 600, height: 601 }} />
      <div style={{ position: "absolute", left: 600, top: 0, width: 601, height: 601, overflow: "hidden" }}>
        <canvas ref={rightRef} width={620} height={601} style={{ position: "absolute", left: 0, top: 0, width: 620, height: 601 }} />
      </div>
    </div>
  );
}
